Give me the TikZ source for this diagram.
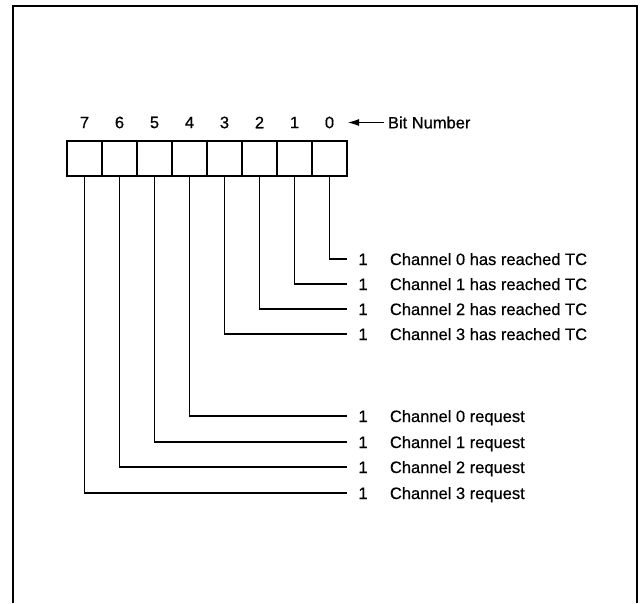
\documentclass[tikz,border=0pt]{standalone}
\usepackage{fontspec}
\setmainfont{Liberation Sans}[FakeBold=0.5]
\usetikzlibrary{arrows.meta}

\begin{document}
\begin{tikzpicture}
  [x=1pt,y=-1pt,line width=1.9pt,
   every node/.style={font=\fontsize{16.5}{19}\selectfont,inner sep=0pt},
   bitbox/.style={draw,line width=2.2pt,minimum size=35pt},
   one/.style={inner xsep=10pt,text height=12pt,text depth=0pt},
   desc/.style={anchor=west,text height=12pt,text depth=0pt}]
  \useasboundingbox (0,0) rectangle (644,603);
  % outer frame, open at the bottom
  \draw[line width=2.3pt] (13,603) |- (637,6) -- (637,603);

  % register bits and bit numbers
  \foreach \b in {0,...,7} {
    \node[bitbox] (b\b) at ({329.5-35*\b},158.5) {};
    \node (n\b) at ({329.5-35*\b},122.5) {\b};
  }
  \coordinate (tip) at (347,122.5);
  \node[anchor=west,inner xsep=3pt] (bitnum) at (384,122.5) {Bit Number};
  \draw[-{Latex[length=12pt,width=7pt]}] (bitnum.west) -- (tip);

  % terminal count bits
  \foreach \b/\y in {0/259,1/284,2/309,3/334} {
    \node[one] (o\b) at (363,\y) {1};
    \node[desc] (t\b) at (389,\y) {Channel \b\ has reached TC};
    \draw (b\b.south) |- (o\b.west);
  }

  % request bits
  \foreach \b/\c/\y in {4/0/416,5/1/442,6/2/467,7/3/493} {
    \node[one] (o\b) at (363,\y) {1};
    \node[desc] (t\b) at (389,\y) {Channel \c\ request};
    \draw (b\b.south) |- (o\b.west);
  }

\end{tikzpicture}
\end{document}
